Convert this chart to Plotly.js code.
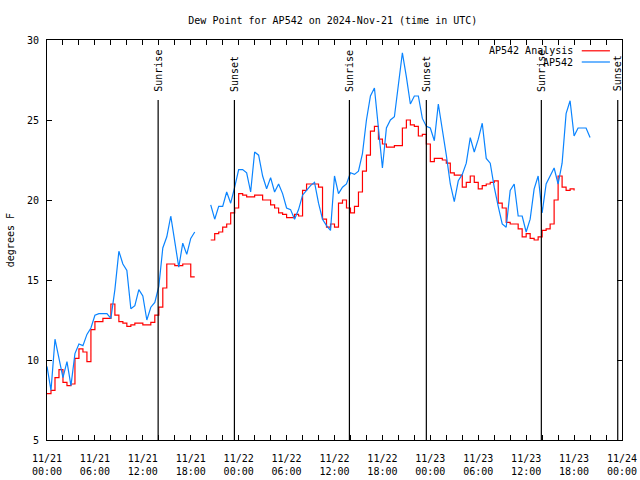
<!DOCTYPE html>
<html>
<head>
<meta charset="utf-8">
<script src="https://cdn.plot.ly/plotly-3.0.1.min.js"></script>
<style>html,body{margin:0;padding:0;background:#fff;}#chart{width:640px;height:480px;}</style>
</head>
<body>
<div id="chart"></div>
<script>
// Sampling: both series every 30 minutes starting 2024-11-21 00:00 UTC
const startTime = '2024-11-21T00:00:00Z';
const stepMinutes = 30;

// AP542 observed dew point (deg F)
const ap542 = [
 9.6, 8.1, 11.3, 10.0, 8.9, 9.9, 8.4, 10.4, 11.0, 10.9,
 11.6, 12.0, 12.8, 12.9, 12.9, 12.9, 12.6, 14.4, 16.8, 16.0,
 15.6, 13.2, 13.4, 14.4, 14.0, 12.5, 13.3, 13.6, 14.6, 17.0,
 17.7, 19.0, 17.4, 15.8, 17.3, 16.6, 17.6, 18.0, null, null,
 null, 19.7, 18.8, 19.6, 19.6, 20.5, 19.8, 20.8, 21.9, 21.9,
 21.7, 20.5, 23.0, 22.8, 21.5, 20.7, 21.4, 20.5, 21.0, 20.4,
 19.5, 19.4, 18.8, 19.4, 20.3, 20.6, 20.9, 21.1, 19.8, 18.8,
 18.4, 18.1, 21.5, 20.4, 20.8, 21.0, 21.7, 21.6, 21.8, 22.9,
 25.0, 26.5, 27.0, 24.5, 22.0, 24.5, 25.0, 25.2, 27.3, 29.2,
 27.7, 26.0, 26.5, 26.5, 25.1, 24.6, 24.5, 23.7, 26.0, 24.5,
 22.8, 21.0, 19.9, 21.2, 21.6, 22.3, 23.9, 23.0, 23.8, 24.8,
 22.6, 22.3, 20.8, 19.6, 18.5, 18.3, 20.6, 21.0, 19.0, 19.0,
 18.0, 18.8, 20.7, 21.5, 19.2, 21.0, 21.5, 22.0, 21.0, 22.3,
 25.4, 26.2, 24.0, 24.5, 24.5, 24.5, 23.9
];

// AP542 Analysis dew point (deg F)
const ap542Analysis = [
 7.9, 8.1, 8.9, 9.4, 8.6, 8.4, 8.5, 10.1, 10.7, 10.5,
 9.9, 11.9, 12.4, 12.4, 12.6, 12.6, 13.5, 12.8, 12.4, 12.3,
 12.1, 12.2, 12.3, 12.3, 12.2, 12.2, 12.35, 12.8, 13.3, 14.5,
 16.0, 16.0, 15.9, 15.9, 16.0, 16.0, 15.2, 15.2, null, null,
 null, 17.5, 17.9, 18.0, 18.3, 18.5, 19.2, 19.5, 20.4, 20.3,
 20.2, 20.2, 20.3, 20.3, 20.0, 20.0, 19.7, 19.5, 19.2, 19.1,
 18.9, 18.9, 19.1, 19.0, 20.6, 21.0, 21.0, 21.0, 20.8, 18.8,
 18.3, 18.5, 18.3, 19.8, 20.0, 19.5, 19.2, 19.6, 20.5, 21.8,
 22.8, 24.3, 24.6, 23.8, 23.5, 23.3, 23.3, 23.4, 23.4, 24.5,
 25.0, 24.7, 24.6, 24.0, 24.1, 23.5, 22.4, 22.6, 22.6, 22.5,
 22.3, 21.7, 21.55, 21.55, 20.8, 21.1, 21.5, 21.1, 20.7, 20.9,
 21.0, 21.1, 21.2, 19.8, 19.5, 18.6, 18.5, 18.5, 18.2, 17.7,
 17.9, 17.6, 17.5, 17.7, 18.1, 18.2, 18.5, 20.0, 21.5, 20.8,
 20.6, 20.7, 20.6
];

// Sun events
const sunTimes = ['2024-11-21 13:55', '2024-11-21 23:28', '2024-11-22 13:52',
                  '2024-11-22 23:30', '2024-11-23 13:54', '2024-11-23 23:28'];
const sunLabels = ['Sunrise', 'Sunset', 'Sunrise', 'Sunset', 'Sunrise', 'Sunset'];

const seriesNames = ['AP542 Analysis', 'AP542'];
const seriesColors = ['#ff0000', '#0a84ff'];

function timeAxis(n) {
  const t0 = Date.parse(startTime);
  const out = [];
  for (let i = 0; i < n; i++) {
    const d = new Date(t0 + i * stepMinutes * 60000);
    const p = v => String(v).padStart(2, '0');
    out.push(d.getUTCFullYear() + '-' + p(d.getUTCMonth() + 1) + '-' + p(d.getUTCDate()) +
             ' ' + p(d.getUTCHours()) + ':' + p(d.getUTCMinutes()));
  }
  return out;
}

const FONT = 'DejaVu Sans Mono, Liberation Mono, monospace';

const traces = [
  {x: timeAxis(ap542Analysis.length), y: ap542Analysis, name: seriesNames[0], type: 'scatter', mode: 'lines',
   line: {color: seriesColors[0], width: 1.2, shape: 'hv'}, connectgaps: false},
  {x: timeAxis(ap542.length), y: ap542, name: seriesNames[1], type: 'scatter', mode: 'lines',
   line: {color: seriesColors[1], width: 1.2}, connectgaps: false}
];

const shapes = [];
const annotations = [];
sunTimes.forEach((t, i) => {
  shapes.push({type: 'line', xref: 'x', yref: 'paper', x0: t, x1: t, y0: 0, y1: 0.85,
               line: {color: '#000', width: 1.2}});
  annotations.push({x: t, xref: 'x', y: 0.866, yref: 'paper', text: sunLabels[i], textangle: -90,
                    showarrow: false, xanchor: 'center', yanchor: 'bottom',
                    font: {family: FONT, size: 10, color: '#000'}});
});

// custom legend (text left of line sample)
const legY = [0.973, 0.945];
seriesNames.forEach((nm, i) => {
  annotations.push({x: 0.919, xref: 'paper', y: legY[i], yref: 'paper', text: nm, showarrow: false,
                    xanchor: 'right', yanchor: 'middle', font: {family: FONT, size: 10, color: '#000'}});
  shapes.push({type: 'line', xref: 'paper', yref: 'paper', x0: 0.930, x1: 0.979, y0: legY[i], y1: legY[i],
               line: {color: seriesColors[i], width: 1.2}});
});

// y-axis title
annotations.push({x: -0.064, xref: 'paper', y: 0.5, yref: 'paper', text: 'degrees F', textangle: -90,
                  showarrow: false, xanchor: 'center', yanchor: 'middle',
                  font: {family: FONT, size: 10, color: '#000'}});

const layout = {
  width: 640, height: 480,
  margin: {l: 47, r: 18, t: 40, b: 40},
  paper_bgcolor: '#fff', plot_bgcolor: '#fff',
  font: {family: FONT, size: 10, color: '#000'},
  showlegend: false,
  title: {text: 'Dew Point for AP542 on 2024-Nov-21 (time in UTC)', x: 0.52, xanchor: 'center',
          y: 0.958, yanchor: 'middle', font: {family: FONT, size: 10, color: '#000'}},
  xaxis: {
    type: 'date', range: ['2024-11-21 00:00', '2024-11-24 00:00'],
    dtick: 6 * 3600000, tick0: '2024-11-21 00:00', tickformat: '%m/%d<br>%H:%M',
    ticks: 'inside', ticklen: 5, tickcolor: '#000', tickwidth: 1,
    minor: {dtick: 2 * 3600000, ticks: 'inside', ticklen: 5, tickcolor: '#000', showgrid: false},
    showline: true, linecolor: '#000', linewidth: 1, mirror: 'allticks',
    showgrid: false, zeroline: false, fixedrange: true, ticklabelstandoff: 9,
    tickfont: {family: FONT, size: 10, color: '#000'}
  },
  yaxis: {
    range: [5, 30], dtick: 5, tick0: 5,
    ticks: 'inside', ticklen: 5, tickcolor: '#000', tickwidth: 1,
    showline: true, linecolor: '#000', linewidth: 1, mirror: 'allticks',
    showgrid: false, zeroline: false, fixedrange: true, ticklabelstandoff: 5,
    tickfont: {family: FONT, size: 10, color: '#000'}
  },
  shapes: shapes,
  annotations: annotations
};

Plotly.newPlot('chart', traces, layout, {displayModeBar: false, staticPlot: true});
</script>
</body>
</html>
